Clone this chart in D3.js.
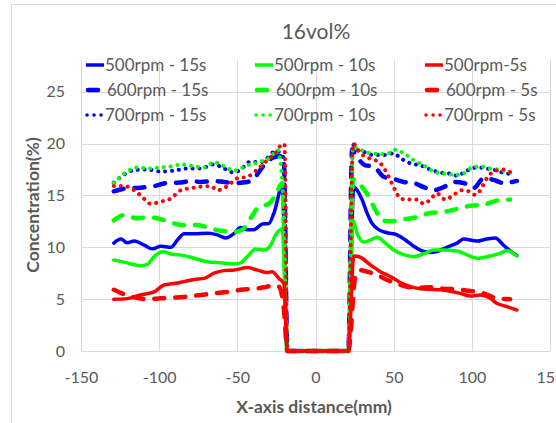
<!DOCTYPE html>
<html>
<head>
<meta charset="utf-8">
<script src="https://cdn.jsdelivr.net/npm/d3@7/dist/d3.min.js"></script>
<style>
  html, body { margin: 0; padding: 0; background: #fff; }
  svg { display: block; font-family: Lato, "Liberation Sans", sans-serif; }
</style>
</head>
<body>
<svg id="chart" width="556" height="423"></svg>
<script>
// Concentration profiles along the X axis, 16vol% case.
const title = "16vol%";
const xTicks = [-150, -100, -50, 0, 50, 100, 150];
const yTicks = [0, 5, 10, 15, 20, 25];

// [x (mm), concentration (%)] per run
const s500_15 = [[-129,10.4],[-124.5,10.8],[-120.5,10.45],[-116,10.6],[-109.6,10.2],[-104.3,9.85],[-99,10.1],[-92.6,10.0],[-88.3,10.7],[-84,11.3],[-77.7,11.3],[-69,11.35],[-62.8,11.2],[-57.5,10.9],[-52,11.35],[-48,11.9],[-43.6,11.7],[-39.4,11.7],[-34,12.25],[-29.8,12.3],[-26.6,13.3],[-21.3,15.85],[-18,0],[21,0],[24.5,15.85],[26.6,15.5],[29.8,14.6],[33,13.3],[36.2,12.3],[40.4,11.7],[45.8,11.4],[52.2,11.2],[57.5,10.7],[62.8,10.1],[68.1,9.65],[73.4,9.5],[77.7,9.6],[84,10.0],[90.5,10.4],[94.7,10.8],[103.2,10.6],[109.6,10.8],[115,10.9],[120.3,10.2],[124.5,9.65],[128.8,9.2]];
const s600_15 = [[-129,15.4],[-120.5,15.7],[-112,15.75],[-103.2,15.9],[-94.7,16.2],[-86.2,16.24],[-79.8,16.4],[-73.4,16.3],[-64.9,16.4],[-58.5,16.3],[-52,16.2],[-43.6,16.3],[-39.4,16.65],[-33,17.9],[-27.7,18.6],[-22.4,18.8],[-20.2,18.1],[-18,0],[21,0],[23.4,19.4],[26.6,18.7],[31.9,17.9],[37.2,17.8],[43.6,16.8],[50,16.6],[56.4,16.3],[62.8,16.2],[69.2,15.8],[75.6,15.5],[82,15.8],[88.3,16.3],[94.7,16.2],[101.1,15.7],[107.5,16.65],[113.9,16.5],[120.3,16.2],[128.8,16.4]];
const s700_15 = [[-129,16.24],[-122.4,17.0],[-116,17.45],[-107.5,17.5],[-99,17.3],[-90.5,17.4],[-82,17.6],[-73.4,17.6],[-64.9,18.0],[-58.5,17.6],[-52,17.2],[-47.9,17.5],[-41.5,18.26],[-35.1,18.2],[-30.9,18.6],[-25.5,19.3],[-21.3,18.9],[-20.2,18.1],[-18,0],[21,0],[24,19.9],[26.6,19.4],[30.9,19.2],[37.2,18.9],[43.6,18.9],[50,19.07],[54.3,18.6],[60.7,18.1],[67,17.9],[73.4,17.5],[79.8,17.2],[86.2,17.1],[90.5,16.9],[96.9,17.4],[103.2,17.7],[109.6,17.6],[116,17.4],[122.4,17.1],[126.6,17.1]];
const s500_10 = [[-129,8.78],[-120.5,8.5],[-111.8,8.23],[-107.5,8.36],[-103.2,9.1],[-97.9,9.58],[-92.6,9.36],[-84,9.2],[-77.7,8.94],[-69,8.6],[-60.7,8.5],[-52,8.4],[-47.9,8.5],[-43.6,9.1],[-38.3,9.84],[-33,9.74],[-28.7,10.2],[-25.5,11.2],[-21.3,11.8],[-18,0],[21,0],[24,12.6],[26.6,11.35],[30.9,10.5],[35.1,10.7],[39.4,10.96],[44.7,10.4],[50,9.74],[56.4,9.3],[62.8,9.1],[69.2,9.36],[75.6,9.74],[82,9.74],[90.5,9.65],[96.9,9.26],[103.2,8.94],[111.8,9.16],[118.1,9.42],[122.4,9.68],[128.8,9.16]];
const s600_10 = [[-129,12.6],[-122.4,13.1],[-113.9,12.8],[-107.5,12.9],[-99,12.7],[-90.5,12.3],[-82,12.1],[-75.6,12.15],[-67,11.8],[-60.7,11.6],[-52,11.5],[-46.8,11.7],[-41.5,12.8],[-36.2,13.9],[-29.8,14.2],[-24.5,15.4],[-21.3,16.2],[-18,0],[21,0],[24,16.56],[28.7,16.0],[34,14.9],[38.3,13.6],[42.6,12.6],[47.9,12.5],[56.4,12.7],[64.9,12.9],[73.4,13.3],[82,13.4],[90.5,13.7],[99,14.0],[107.5,14.1],[116,14.5],[124.5,14.6]];
const s700_10 = [[-129,16.2],[-122.4,17.1],[-113.9,17.7],[-107.5,17.6],[-99,17.7],[-90.5,17.85],[-86.2,18.0],[-77.7,17.8],[-71.3,17.7],[-64.9,18.2],[-58.5,17.8],[-52,17.4],[-43.6,17.9],[-35.1,18.26],[-28.7,18.7],[-24.5,19.4],[-21.3,16.5],[-18,0],[21,0],[24,19.7],[28.7,19.4],[35.1,19.07],[41.5,19.0],[46.8,19.07],[51,19.4],[56.4,19.07],[62.8,18.4],[69.2,17.9],[75.6,17.3],[82,17.1],[88.3,17.0],[92.6,16.98],[99,17.6],[105.4,17.8],[111.8,17.6],[118.1,17.46],[124.5,17.2],[127.7,17.1]];
const s500_5 = [[-129,4.98],[-120.5,5.05],[-112,5.4],[-103.2,5.7],[-96.9,6.37],[-90.5,6.5],[-84,6.7],[-77.7,6.9],[-71.3,7.0],[-64.9,7.5],[-58.5,7.75],[-52,7.8],[-43.6,8.04],[-37.2,7.8],[-30.9,7.56],[-27.7,7.65],[-23.4,7.0],[-20.2,6.5],[-18,0],[21,0],[24.5,9.16],[28.7,9.04],[35.1,8.3],[41.5,7.65],[47.9,7.17],[54.3,6.6],[60.7,6.2],[67,6.0],[73.4,5.95],[79.8,5.9],[86.2,5.76],[92.6,5.56],[99,5.3],[105.4,5.4],[111.8,5.08],[116,4.6],[122.4,4.28],[128.8,3.95]];
const s600_5 = [[-129,5.9],[-122.4,5.47],[-116,5.18],[-107.5,5.0],[-99,5.08],[-90.5,5.14],[-82,5.24],[-73.4,5.4],[-64.9,5.56],[-56.4,5.7],[-47.9,5.9],[-39.4,6.0],[-33,6.14],[-27.7,6.3],[-23.4,6.2],[-20.2,4.0],[-18,0],[21,0],[25.5,7.17],[28.7,7.8],[33,7.65],[39.4,7.33],[45.8,6.85],[52.2,6.5],[58.5,6.2],[64.9,6.1],[73.4,6.14],[82,6.0],[90.5,5.95],[99,5.79],[107.5,5.56],[116,5.08],[124.5,5.0]];
const s700_5 = [[-129,15.9],[-122.4,15.9],[-116,15.5],[-111.8,15.0],[-105.4,14.2],[-99,14.4],[-92.6,14.7],[-86.2,15.5],[-79.8,15.7],[-73.4,15.85],[-67,15.9],[-62.8,15.5],[-56.4,15.9],[-50,16.65],[-43.6,16.8],[-37.2,17.5],[-30.9,18.4],[-24.5,19.3],[-21.3,19.97],[-19.8,19.9],[-18,0],[21,0],[24,20.0],[28.7,19.07],[34,18.6],[38.3,18.4],[42.6,17.9],[46.8,16.8],[51,15.5],[54.3,14.7],[58.5,14.6],[64.9,14.6],[69.2,14.2],[73.4,14.6],[77.7,15.2],[83,14.6],[88.3,15.05],[93.7,15.5],[97.9,15.4],[102.2,15.05],[105.4,15.5],[109.6,16.65],[113.9,17.3],[120.3,17.5],[126.6,17.0]];

const seriesNames = ["500rpm - 15s","600rpm - 15s","700rpm - 15s","500rpm - 10s","600rpm - 10s","700rpm - 10s","500rpm-5s","600rpm - 5s","700rpm - 5s"];
const seriesData = [s500_15, s600_15, s700_15, s500_10, s600_10, s700_10, s500_5, s600_5, s700_5];
const seriesColors = ["#0000ff","#0000ff","#0000ff","#00ff00","#00ff00","#00ff00","#ff0000","#ff0000","#ff0000"];
const seriesStyles = ["solid","dash","dot","solid","dash","dot","solid","dash","dot"];

const svg = d3.select("#chart");
const textColor = "#595959";
const gridColor = "#d9d9d9";

// outer chart frame
svg.append("rect").attr("x", 11.5).attr("y", 4.5).attr("width", 600).attr("height", 500)
  .attr("fill", "none").attr("stroke", gridColor);

const x = d3.scaleLinear().domain([-150, 150]).range([81, 550]);
const y = d3.scaleLinear().domain([0, 28.06]).range([351, 60]);

// gridlines
const grid = svg.append("g");
grid.selectAll("line.h").data(yTicks).join("line")
  .attr("x1", x(-150)).attr("x2", x(150))
  .attr("y1", d => Math.round(y(d)) + 0.5).attr("y2", d => Math.round(y(d)) + 0.5)
  .attr("stroke", gridColor);
grid.selectAll("line.v").data(xTicks).join("line")
  .attr("x1", d => Math.round(x(d)) + 0.5).attr("x2", d => Math.round(x(d)) + 0.5)
  .attr("y1", y(0)).attr("y2", 60)
  .attr("stroke", gridColor);

// axes (labels only, lines come from the grid)
const xAxis = svg.append("g").attr("transform", `translate(0,${y(0)})`)
  .call(d3.axisBottom(x).tickValues(xTicks).tickSize(0).tickPadding(21).tickFormat(d => String(d)));
const yAxis = svg.append("g").attr("transform", `translate(${x(-150)},0)`)
  .call(d3.axisLeft(y).tickValues(yTicks).tickSize(0).tickPadding(16).tickFormat(d => String(d)));
[xAxis, yAxis].forEach(a => {
  a.select(".domain").remove();
  a.selectAll("text").attr("fill", textColor).style("font-size", "16px").style("font-family", "Lato, sans-serif");
});

// lines
const line = d3.line().x(d => x(d[0])).y(d => y(d[1])).curve(d3.curveMonotoneX);
const styleAttrs = {
  solid: { w: 3.5, dash: null },
  dash: { w: 4.5, dash: "10 11" },
  dot: { w: 4, dash: "0.1 6.8" }
};
const plot = svg.append("g");
seriesData.forEach((data, i) => {
  const st = styleAttrs[seriesStyles[i]];
  plot.append("path").datum(data)
    .attr("d", line)
    .attr("fill", "none")
    .attr("stroke", seriesColors[i])
    .attr("stroke-width", st.w)
    .attr("stroke-linecap", "round")
    .attr("stroke-linejoin", "round")
    .attr("stroke-dasharray", st.dash);
});

// title
svg.append("text").attr("x", 316).attr("y", 39).attr("text-anchor", "middle")
  .attr("fill", textColor).style("font-size", "21px").text(title);

// axis titles
svg.append("text").attr("x", 314).attr("y", 413).attr("text-anchor", "middle")
  .attr("fill", textColor).style("font-size", "17.5px").style("font-weight", "bold")
  .text("X-axis distance(mm)");
svg.append("text").attr("transform", "translate(39,205) rotate(-90)").attr("text-anchor", "middle")
  .attr("fill", textColor).style("font-size", "17.5px").style("font-weight", "bold")
  .text("Concentration(%)");

// legend: three columns (15s, 10s, 5s), three rows (500/600/700 rpm)
const colX = [85, 254, 424];
const rowY = [65, 90, 115];
seriesNames.forEach((name, i) => {
  const col = Math.floor(i / 3), row = i % 3;
  const g = svg.append("g").attr("transform", `translate(${colX[col]},${rowY[row]})`);
  const st = seriesStyles[i];
  if (st === "solid") {
    g.append("line").attr("x1", 1).attr("x2", 19).attr("y1", 0).attr("y2", 0)
      .attr("stroke", seriesColors[i]).attr("stroke-width", 3.5);
  } else if (st === "dash") {
    g.append("line").attr("x1", 3).attr("x2", 13).attr("y1", 0).attr("y2", 0)
      .attr("stroke", seriesColors[i]).attr("stroke-width", 4.5).attr("stroke-linecap", "round");
  } else {
    g.append("line").attr("x1", 2).attr("x2", 17).attr("y1", 0).attr("y2", 0)
      .attr("stroke", seriesColors[i]).attr("stroke-width", 3.5).attr("stroke-linecap", "round")
      .attr("stroke-dasharray", "0.1 6.9");
  }
  g.append("text").attr("x", st === "dash" ? 22 : 20).attr("y", 6)
    .attr("fill", textColor).style("font-size", "17px").text(name);
});
</script>
</body>
</html>
